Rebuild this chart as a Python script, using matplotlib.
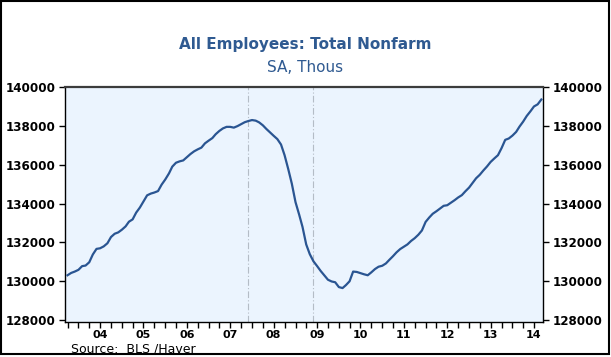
import numpy as np
import pandas as pd
import matplotlib
matplotlib.use("Agg")
import matplotlib.pyplot as plt
import matplotlib.dates as mdates
from matplotlib.patches import Rectangle

# Total nonfarm payrolls, SA, thousands (monthly, Oct 2003 - Sep 2014)
START = "2003-10-01"
PAYROLLS = [
    130310, 130430, 130500,                                                   # 2003
    130590, 130780, 130810, 130980, 131380, 131670, 131700, 131800, 131960, 132280, 132450, 132520,  # 2004
    132660, 132830, 133070, 133190, 133540, 133800, 134110, 134430, 134520, 134575, 134650, 134980,  # 2005
    135250, 135560, 135910, 136110, 136180, 136230, 136390, 136560, 136700, 136800, 136890, 137110,  # 2006
    137250, 137380, 137580, 137750, 137880, 137960, 137960, 137920, 138000, 138100, 138200, 138260,  # 2007
    138310, 138280, 138190, 138040, 137850, 137670, 137500, 137330, 137050, 136500, 135780, 135030,  # 2008
    134080, 133430, 132800, 131900, 131400, 131030, 130790, 130530, 130300, 130080, 129990, 129950,  # 2009
    129700, 129650, 129800, 130000, 130500, 130480, 130420, 130360, 130310, 130460, 130630, 130750,  # 2010
    130800, 130920, 131100, 131290, 131490, 131660, 131780, 131900, 132080, 132220, 132400, 132620,  # 2011
    133060, 133290, 133480, 133610, 133750, 133890, 133920, 134050, 134180, 134320, 134440, 134640,  # 2012
    134830, 135080, 135310, 135490, 135710, 135920, 136150, 136330, 136500, 136860, 137290, 137360,  # 2013
    137510, 137700, 137970, 138230, 138520, 138760, 139010, 139120, 139370,                          # 2014
]
RECESSION_LINES = ["2007-12-01", "2009-06-01"]
YTICKS = [128000, 130000, 132000, 134000, 136000, 138000, 140000]

LINE_COL = "#2A5592"
TITLE_COL = "#2F5A91"
BG_COL = "#EBF4FE"

dates = pd.date_range(START, periods=len(PAYROLLS), freq="MS")

fig = plt.figure(figsize=(6.11, 3.57), dpi=100)
ax = fig.add_axes([0.1064, 0.098, 0.7823, 0.6597])
ax.set_facecolor(BG_COL)

for d in RECESSION_LINES:
    ax.axvline(pd.Timestamp(d), color="#B4BCC6", lw=0.8, ls=(0, (6, 2, 1, 2)), zorder=1)

ax.plot(dates, PAYROLLS, color=LINE_COL, lw=1.6, zorder=3)

ax.set_xlim(pd.Timestamp("2003-09-10"), pd.Timestamp("2014-09-15"))
ax.set_ylim(127900, 140040)

# y axis labels on both sides
ax.set_yticks(YTICKS)
ax.set_yticklabels([str(v) for v in YTICKS])
ax.tick_params(axis="y", which="both", direction="out", length=4, width=1,
               left=True, right=True, labelleft=True, labelright=True, pad=3)
for lab in ax.get_yticklabels():
    lab.set_fontweight("bold")
    lab.set_fontsize(8.6)

# x axis: quarterly ticks, year labels in the middle of each year
ax.xaxis.remove_overlapping_locs = False
ax.xaxis.set_major_locator(mdates.MonthLocator(bymonth=[1, 4, 7, 10]))
ax.xaxis.set_major_formatter(plt.NullFormatter())
ax.xaxis.set_minor_locator(mdates.MonthLocator(bymonth=[7]))
ax.xaxis.set_minor_formatter(mdates.DateFormatter("%y"))
ax.tick_params(axis="x", which="major", direction="out", length=4, width=1)
ax.tick_params(axis="x", which="minor", length=0, pad=6, labelsize=8)
for lab in ax.xaxis.get_minorticklabels():
    lab.set_fontweight("bold")

for side in ["left", "right", "bottom"]:
    ax.spines[side].set_color("black")
    ax.spines[side].set_linewidth(1)
ax.spines["top"].set_color("#3C3C3C")
ax.spines["top"].set_linewidth(1.6)

fig.text(0.5, 0.874, "All Employees: Total Nonfarm", ha="center", va="center",
         fontsize=11, fontweight="bold", color=TITLE_COL)
fig.text(0.5, 0.812, "SA, Thous", ha="center", va="center",
         fontsize=11, color=TITLE_COL)
fig.text(0.116, 0.022, "Source:  BLS /Haver", ha="left", va="center",
         fontsize=9, color="black")

# outer frame
fig.patches.append(Rectangle((0.0016, 0.0084), 0.995, 0.989, transform=fig.transFigure,
                             fill=False, ec="black", lw=1.5))

fig.savefig("out.png", dpi=100)
